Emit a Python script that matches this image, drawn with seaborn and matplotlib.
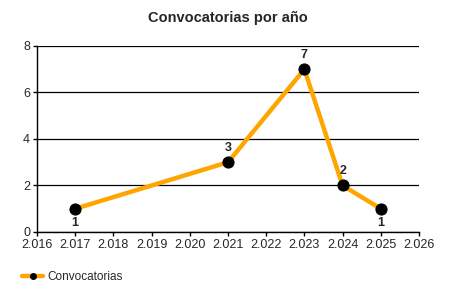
import matplotlib
matplotlib.use("Agg")
import matplotlib.pyplot as plt
import seaborn as sns
import pandas as pd
from matplotlib.ticker import FuncFormatter, MultipleLocator
from matplotlib.lines import Line2D

years = [2017, 2021, 2023, 2024, 2025]
counts = [1, 3, 7, 2, 1]
label_pos = ["below", "above", "above", "above", "below"]
series_name = "Convocatorias"
title = "Convocatorias por año"

sns.set_style("white")
plt.rcParams['font.family'] = ['Liberation Sans', 'DejaVu Sans']

df = pd.DataFrame({"year": years, "count": counts})

fig = plt.figure(figsize=(4.5, 3), dpi=100)
ax = fig.add_axes([0.0822, 0.2267, 0.8489, 0.62])

sns.lineplot(data=df, x="year", y="count", ax=ax, color="#FFA500", linewidth=3.2,
             marker="o", markersize=8, markerfacecolor="black", markeredgecolor="black",
             zorder=3)

for x, y, p in zip(years, counts, label_pos):
    if p == "above":
        ax.annotate(str(y), (x, y), xytext=(0, 6), textcoords="offset points",
                    ha="center", va="bottom", fontsize=9, fontweight="bold")
    else:
        ax.annotate(str(y), (x, y), xytext=(0, -6), textcoords="offset points",
                    ha="center", va="top", fontsize=9, fontweight="bold")

ax.set_xlim(2016, 2026)
ax.set_ylim(0, 8)
ax.xaxis.set_major_locator(MultipleLocator(1))
ax.yaxis.set_major_locator(MultipleLocator(2))
ax.xaxis.set_major_formatter(FuncFormatter(lambda v, p: f"{int(round(v)) // 1000}.{int(round(v)) % 1000:03d}"))
ax.yaxis.set_major_formatter(FuncFormatter(lambda v, p: f"{int(v)}"))
ax.grid(axis="y", color="black", linewidth=0.9)
ax.grid(axis="x", visible=False)
ax.set_axisbelow(True)
for s in ["top", "right"]:
    ax.spines[s].set_visible(False)
for s in ["left", "bottom"]:
    ax.spines[s].set_color("black")
    ax.spines[s].set_linewidth(1)
ax.tick_params(axis="both", which="major", length=3, width=1, color="black",
               labelsize=9, pad=2, bottom=True, left=True)
ax.set_xlabel("")
ax.set_ylabel("")
ax.set_title(title, fontsize=10.5, fontweight="bold", pad=17)

handle = Line2D([0], [0], color="#FFA500", linewidth=3.2, marker="o", markersize=4,
                markerfacecolor="black", markeredgecolor="black")
fig.legend([handle], [series_name], loc="center left", bbox_to_anchor=(0.025, 0.077),
           frameon=False, fontsize=8.5, handlelength=1.8, handletextpad=0.4)

fig.savefig("out.png", dpi=100)
